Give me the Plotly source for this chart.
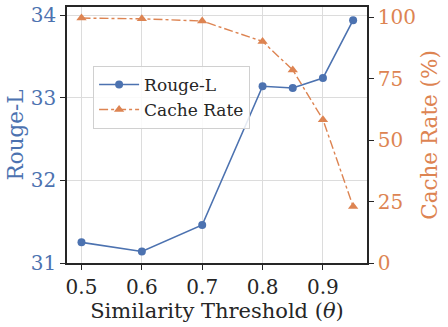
"""Rouge-L and cache rate vs. similarity threshold."""

import plotly.graph_objects as go

thresholds = [0.5, 0.6, 0.7, 0.8, 0.85, 0.9, 0.95]
rouge_l = [31.25, 31.14, 31.46, 33.14, 33.12, 33.24, 33.94]
cache_rate = [99.6, 99.3, 98.4, 90.1, 78.5, 58.3, 23.0]

x_ticks = [0.5, 0.6, 0.7, 0.8, 0.9]
rouge_ticks = [31, 32, 33, 34]
cache_ticks = [0, 25, 50, 75, 100]

BLUE = "#4C72B0"
ORANGE = "#DD8452"
FONT = "DejaVu Serif"
AXIS = "#262626"
GRID = "#dcdcdc"

figure = go.Figure()
figure.add_trace(
    go.Scatter(
        x=thresholds,
        y=rouge_l,
        mode="lines+markers",
        name="Rouge-L",
        line=dict(color=BLUE, width=1.6),
        marker=dict(symbol="circle", size=8, color=BLUE),
    )
)
figure.add_trace(
    go.Scatter(
        x=thresholds,
        y=cache_rate,
        mode="lines+markers",
        name="Cache Rate",
        yaxis="y2",
        line=dict(color=ORANGE, width=1.4, dash="dashdot"),
        marker=dict(symbol="triangle-up", size=9, color=ORANGE),
    )
)

figure.update_layout(
    width=448,
    height=327,
    margin=dict(l=67, r=81, t=7, b=64),
    paper_bgcolor="white",
    plot_bgcolor="white",
    font=dict(family=FONT, size=20, color=AXIS),
    showlegend=True,
    legend=dict(
        x=0.087,
        y=0.77,
        xanchor="left",
        yanchor="top",
        bgcolor="rgba(255,255,255,0.85)",
        bordercolor="#d0d0d0",
        borderwidth=1,
        itemwidth=40,
        font=dict(family=FONT, size=17, color=AXIS),
        tracegroupgap=0,
    ),
    xaxis=dict(
        range=[0.476, 0.973],
        tickvals=x_ticks,
        ticktext=[f"{v:.1f}" for v in x_ticks],
        title=dict(text="Similarity Threshold (<i>θ</i>)", font=dict(size=21), standoff=2),
        automargin=False,
        showgrid=True,
        gridcolor=GRID,
        gridwidth=1,
        showline=True,
        linecolor=AXIS,
        linewidth=1.5,
        mirror=True,
        ticks="outside",
        ticklen=5,
        tickcolor=AXIS,
        zeroline=False,
        tickfont=dict(size=20, color=AXIS),
    ),
    yaxis=dict(
        range=[31, 34.1],
        tickvals=rouge_ticks,
        title=dict(text="Rouge-L", font=dict(size=21.5, color=BLUE), standoff=1),
        tickfont=dict(size=20, color=BLUE),
        automargin=False,
        showgrid=True,
        gridcolor=GRID,
        gridwidth=1,
        showline=True,
        linecolor=AXIS,
        linewidth=1.5,
        ticks="outside",
        ticklen=5,
        tickcolor=AXIS,
        zeroline=False,
    ),
    yaxis2=dict(
        range=[0, 104.1],
        tickvals=cache_ticks,
        overlaying="y",
        side="right",
        title=dict(text="Cache Rate (%)", font=dict(size=21.5, color=ORANGE), standoff=7),
        tickfont=dict(size=20, color=ORANGE),
        automargin=False,
        showgrid=False,
        showline=True,
        linecolor=AXIS,
        linewidth=1.5,
        ticks="outside",
        ticklen=5,
        tickcolor=AXIS,
        zeroline=False,
    ),
)

# the page body has a default 8px margin; drop it so the figure sits at 0,0
figure.write_html(
    "out.html",
    config={"displayModeBar": False},
    post_script="document.body.style.margin='0';",
)
